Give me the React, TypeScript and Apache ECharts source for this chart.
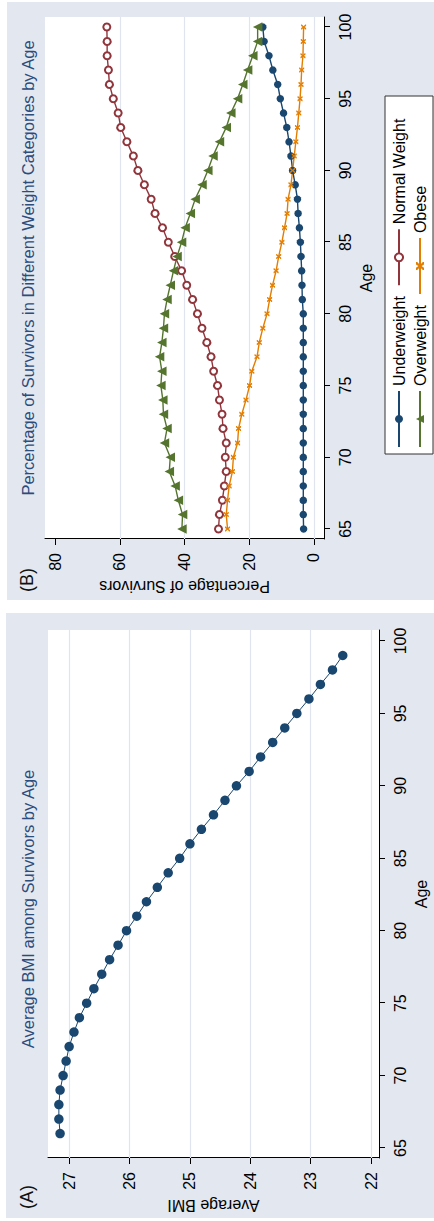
import React, { useEffect, useRef } from 'react';
import * as echarts from 'echarts';

// ---------- Data ----------
const agesA = [66, 67, 68, 69, 70, 71, 72, 73, 74, 75, 76, 77, 78, 79, 80, 81, 82, 83, 84, 85, 86, 87, 88, 89, 90, 91, 92, 93, 94, 95, 96, 97, 98, 99];
const avgBmi = [27.15, 27.17, 27.17, 27.15, 27.10, 27.05, 27.00, 26.92, 26.83, 26.71, 26.59, 26.46, 26.33, 26.19, 26.05, 25.88, 25.72, 25.54, 25.36, 25.17, 25.00, 24.81, 24.61, 24.42, 24.23, 24.02, 23.83, 23.63, 23.43, 23.23, 23.03, 22.84, 22.64, 22.47];

const agesB = [65, 66, 67, 68, 69, 70, 71, 72, 73, 74, 75, 76, 77, 78, 79, 80, 81, 82, 83, 84, 85, 86, 87, 88, 89, 90, 91, 92, 93, 94, 95, 96, 97, 98, 99, 100];
const underweight = [3.2, 3.3, 3.3, 3.3, 3.3, 3.3, 3.3, 3.3, 3.3, 3.3, 3.3, 3.3, 3.3, 3.3, 3.3, 3.3, 3.6, 3.7, 3.8, 4.0, 4.2, 4.5, 4.9, 5.1, 5.8, 6.6, 7.1, 7.7, 8.4, 9.4, 10.4, 11.2, 12.7, 13.9, 15.4, 15.8];
const normalWeight = [29.5, 29.2, 28.3, 27.7, 27.1, 27.4, 27.1, 28.1, 28.4, 29.2, 29.8, 31.0, 31.8, 33.1, 34.6, 36.0, 37.5, 39.3, 40.9, 43.0, 45.0, 46.8, 49.1, 50.3, 52.4, 54.4, 55.8, 57.8, 59.7, 60.5, 62.0, 63.2, 63.5, 63.9, 63.9, 64.0];
const overweight = [40.8, 40.6, 41.9, 42.9, 44.7, 44.4, 46.2, 45.4, 46.5, 46.7, 47.3, 47.0, 47.7, 47.0, 46.5, 46.2, 45.4, 44.4, 43.4, 42.3, 40.9, 39.8, 38.2, 36.7, 34.6, 32.8, 31.2, 29.2, 27.1, 25.7, 23.6, 22.0, 20.5, 18.9, 17.4, 17.4];
const obese = [26.7, 27.1, 26.7, 26.2, 25.2, 24.9, 23.6, 23.3, 22.3, 21.0, 19.9, 19.2, 17.6, 16.9, 15.8, 14.5, 13.7, 12.8, 11.7, 10.9, 9.9, 9.1, 8.3, 8.0, 7.1, 6.6, 6.1, 5.6, 5.1, 4.7, 4.3, 4.0, 3.8, 3.4, 3.3, 3.2];

const ageTicks = [65, 70, 75, 80, 85, 90, 95, 100];
const bmiTicks = [22, 23, 24, 25, 26, 27];
const pctTicks = [0, 20, 40, 60, 80];
const pctGrid = [0, 20, 40, 60];
const legendRow1 = ['Underweight', 'Normal Weight'];
const legendRow2 = ['Overweight', 'Obese'];

// ---------- Styles ----------
const FONT = '"Liberation Sans", Arial, Helvetica, sans-serif';
const NAVY = '#1a476f';
const MAROON = '#90353b';
const GREEN = '#55752f';
const ORANGE = '#e37e00';
const PANEL_BG = '#e3e7f0';
const GRID_C = '#dfe4ee';
const TITLE_C = '#2c4c7c';
const XMARK = 'path://M0,0 L3,0 L5,3 L7,0 L10,0 L10,1.5 L6.5,5 L10,8.5 L10,10 L7,10 L5,7 L3,10 L0,10 L0,8.5 L3.5,5 L0,1.5 Z';

function ageAxis(gridIndex: number, min: number, max: number) {
  return {
    type: 'value',
    gridIndex,
    min,
    max,
    name: 'Age',
    nameLocation: 'middle',
    nameGap: 34,
    nameTextStyle: { fontSize: 16, color: '#000', fontFamily: FONT },
    axisLine: { show: true, onZero: false, lineStyle: { color: '#000', width: 1 } },
    axisTick: { show: true, length: 6, customValues: ageTicks, lineStyle: { color: '#000', width: 1 } },
    axisLabel: { customValues: ageTicks, fontSize: 16, color: '#000', margin: 13, fontFamily: FONT },
    splitLine: { show: false },
  };
}

function valueAxis(gridIndex: number, min: number, max: number, ticks: number[], name: string) {
  return {
    type: 'value',
    gridIndex,
    min,
    max,
    name,
    nameLocation: 'middle',
    nameGap: 39,
    nameTextStyle: { fontSize: 16, color: '#000', fontFamily: FONT },
    axisLine: { show: true, onZero: false, lineStyle: { color: '#000', width: 1 } },
    axisTick: { show: true, length: 6, customValues: ticks, lineStyle: { color: '#000', width: 1 } },
    axisLabel: { customValues: ticks, fontSize: 16, color: '#000', margin: 14, fontFamily: FONT },
    splitLine: { show: false },
  };
}

function gridLines(vals: number[]) {
  return {
    silent: true,
    symbol: 'none',
    z: 1,
    label: { show: false },
    lineStyle: { color: GRID_C, width: 1.2, type: 'solid' },
    data: vals.map((v) => ({ yAxis: v })),
  };
}

function legend(names: string[], top: number) {
  return {
    data: names,
    orient: 'horizontal',
    left: 773,
    top,
    padding: 0,
    itemWidth: 56,
    itemHeight: 10,
    itemGap: 10,
    selectedMode: false,
    textStyle: { fontSize: 16, color: '#000', fontFamily: FONT, width: 95 },
  };
}

export default function App() {
  const ref = useRef<HTMLDivElement>(null);

  useEffect(() => {
    if (!ref.current) return;
    const chart = echarts.init(ref.current, undefined, { renderer: 'svg', width: 1221, height: 434 });
    const option: any = {
      animation: false,
      backgroundColor: 'transparent',
      textStyle: { fontFamily: FONT },
      grid: [
        { left: 63, top: 48, width: 528, height: 332, show: true, backgroundColor: '#fff', borderWidth: 0, containLabel: false },
        { left: 682, top: 45, width: 522, height: 279, show: true, backgroundColor: '#fff', borderWidth: 0, containLabel: false },
      ],
      xAxis: [ageAxis(0, 64.31, 100.76), ageAxis(1, 64.3, 100.7)],
      yAxis: [
        valueAxis(0, 21.87, 27.35, bmiTicks, 'Average BMI'),
        valueAxis(1, -3.1, 83.1, pctTicks, 'Percentage of Survivors'),
      ],
      legend: [legend(legendRow1, 391), legend(legendRow2, 412)],
      graphic: [
        {
          type: 'rect',
          shape: { x: 767, y: 385, width: 358, height: 48 },
          style: { fill: '#fff', stroke: '#333', lineWidth: 1 },
          silent: true,
        },
        {
          type: 'text',
          x: 312,
          y: 28,
          style: { text: 'Average BMI among Survivors by Age', fontSize: 16.5, fontFamily: FONT, fill: TITLE_C, align: 'center', verticalAlign: 'middle', textAlign: 'center', textVerticalAlign: 'middle' },
        },
        {
          type: 'text',
          x: 953,
          y: 28,
          style: { text: 'Percentage of Survivors in Different Weight Categories by Age', fontSize: 16.5, fontFamily: FONT, fill: TITLE_C, align: 'center', verticalAlign: 'middle', textAlign: 'center', textVerticalAlign: 'middle' },
        },
        {
          type: 'text',
          x: 24,
          y: 27,
          style: { text: '(A)', fontSize: 18, fontFamily: FONT, fill: '#111', align: 'center', verticalAlign: 'middle', textAlign: 'center', textVerticalAlign: 'middle' },
        },
        {
          type: 'text',
          x: 641,
          y: 27,
          style: { text: '(B)', fontSize: 18, fontFamily: FONT, fill: '#111', align: 'center', verticalAlign: 'middle', textAlign: 'center', textVerticalAlign: 'middle' },
        },
      ],
      series: [
        {
          name: 'Average BMI',
          type: 'line',
          xAxisIndex: 0,
          yAxisIndex: 0,
          data: agesA.map((a, i) => [a, avgBmi[i]]),
          symbol: 'circle',
          symbolSize: 9.5,
          lineStyle: { color: NAVY, width: 1 },
          itemStyle: { color: NAVY },
          markLine: gridLines(bmiTicks),
        },
        {
          name: 'Underweight',
          type: 'line',
          xAxisIndex: 1,
          yAxisIndex: 1,
          data: agesB.map((a, i) => [a, underweight[i]]),
          symbol: 'circle',
          symbolSize: 7.5,
          lineStyle: { color: NAVY, width: 1.4 },
          itemStyle: { color: NAVY },
          markLine: gridLines(pctGrid),
        },
        {
          name: 'Normal Weight',
          type: 'line',
          xAxisIndex: 1,
          yAxisIndex: 1,
          data: agesB.map((a, i) => [a, normalWeight[i]]),
          symbol: 'emptyCircle',
          symbolSize: 7,
          lineStyle: { color: MAROON, width: 1.4 },
          itemStyle: { color: MAROON, borderColor: MAROON, borderWidth: 1.3 },
        },
        {
          name: 'Overweight',
          type: 'line',
          xAxisIndex: 1,
          yAxisIndex: 1,
          data: agesB.map((a, i) => [a, overweight[i]]),
          symbol: 'triangle',
          symbolSize: 9.5,
          lineStyle: { color: GREEN, width: 1.4 },
          itemStyle: { color: GREEN },
        },
        {
          name: 'Obese',
          type: 'line',
          xAxisIndex: 1,
          yAxisIndex: 1,
          data: agesB.map((a, i) => [a, obese[i]]),
          symbol: XMARK,
          symbolSize: 5,
          lineStyle: { color: ORANGE, width: 1.4 },
          itemStyle: { color: ORANGE },
        },
      ],
    };
    chart.setOption(option);
    return () => chart.dispose();
  }, []);

  return (
    <div style={{ position: 'absolute', left: 0, top: 0, width: 434, height: 1221, overflow: 'hidden', background: '#fff' }}>
      <div
        style={{
          position: 'absolute',
          left: 0,
          top: 0,
          width: 1221,
          height: 434,
          transformOrigin: '0 0',
          transform: 'translateY(1221px) rotate(-90deg)',
        }}
      >
        <div style={{ position: 'absolute', left: 3, top: 6, width: 605, height: 428, background: PANEL_BG }} />
        <div style={{ position: 'absolute', left: 621, top: 7, width: 598, height: 427, background: PANEL_BG }} />
        <div ref={ref} style={{ position: 'absolute', left: 0, top: 0, width: 1221, height: 434 }} />
      </div>
    </div>
  );
}
